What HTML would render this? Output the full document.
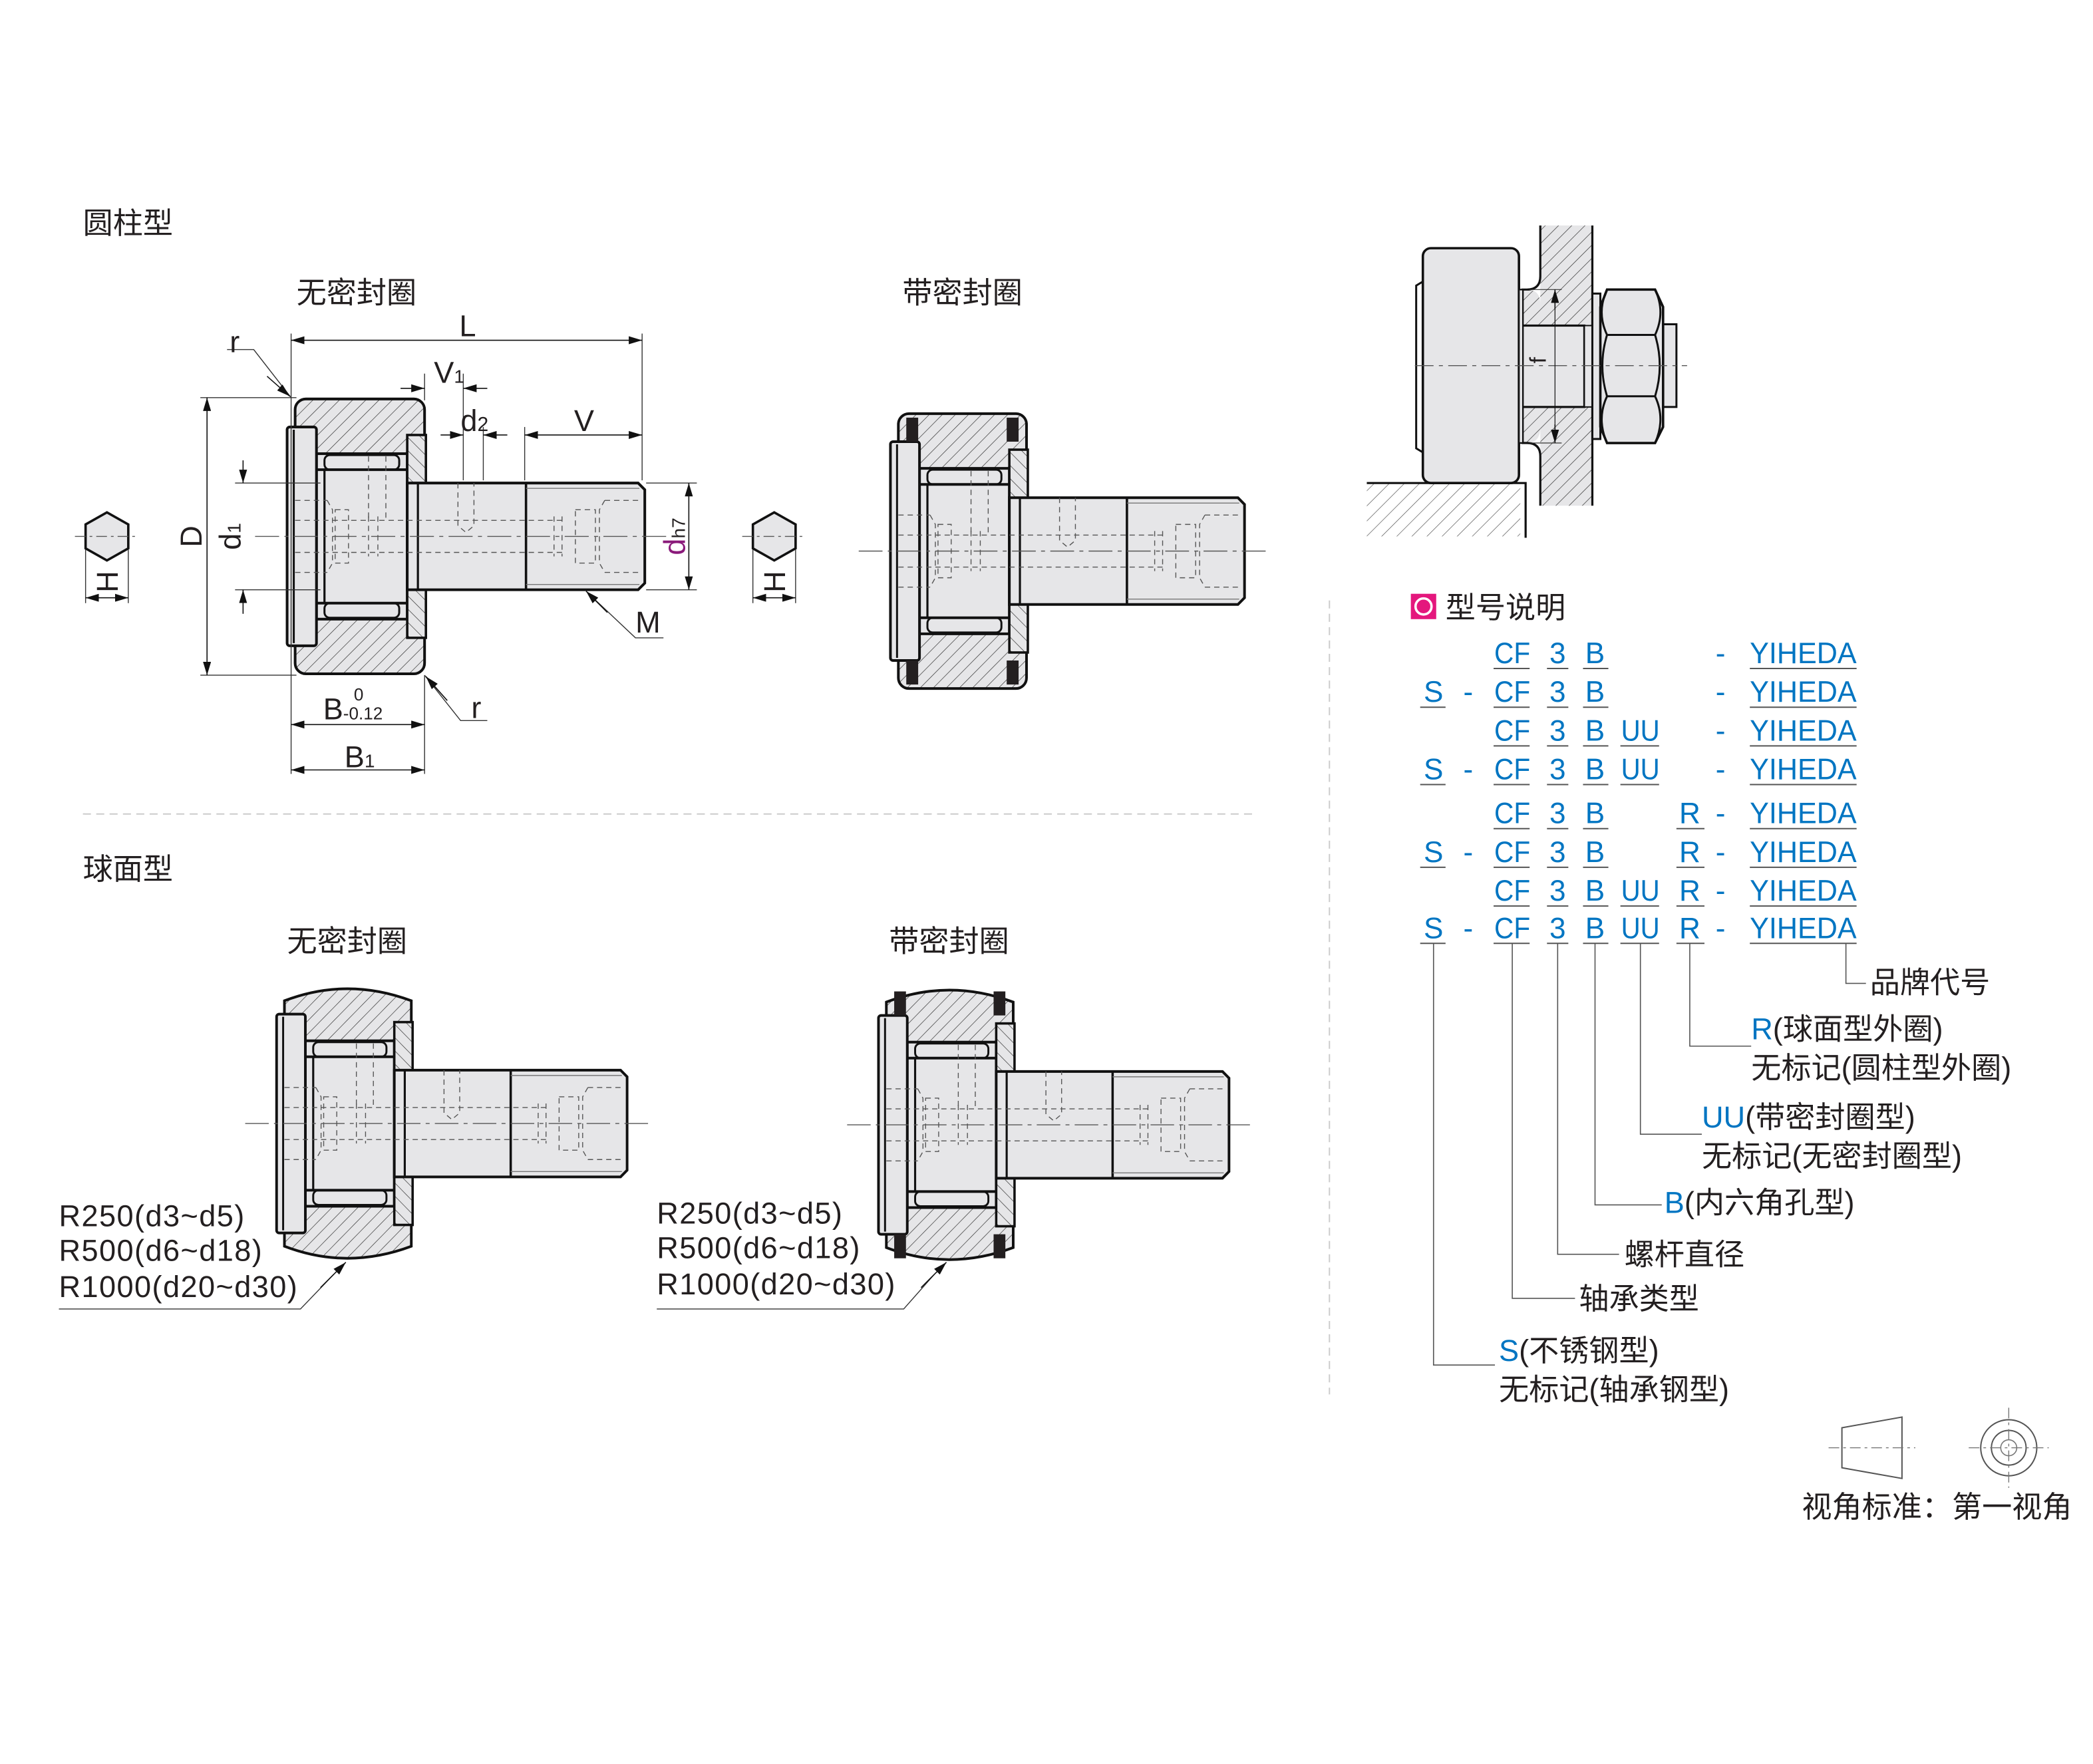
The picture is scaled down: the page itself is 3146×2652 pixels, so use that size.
<!DOCTYPE html>
<html><head><meta charset="utf-8"><style>
html,body{margin:0;padding:0;background:#fff;}
svg{display:block;}
text{font-family:"Liberation Sans","Noto Sans CJK SC",sans-serif;}
.k{fill:#231f20;font-size:22.5px;}
.l{letter-spacing:0.7px;}
.b{fill:#0075c2;font-size:22px;}
</style></head><body>
<svg width="3146" height="2652" viewBox="0 0 1568 1322" xmlns="http://www.w3.org/2000/svg">
<defs>
<pattern id="h" patternUnits="userSpaceOnUse" width="7" height="7" patternTransform="rotate(45)">
<rect width="7" height="7" fill="#e6e6e8"/><line x1="0" y1="0" x2="0" y2="7" stroke="#333" stroke-width="0.7"/></pattern>
<pattern id="h2" patternUnits="userSpaceOnUse" width="7" height="7" patternTransform="rotate(-45)">
<rect width="7" height="7" fill="#e6e6e8"/><line x1="0" y1="0" x2="0" y2="7" stroke="#333" stroke-width="0.7"/></pattern>
<pattern id="hw" patternUnits="userSpaceOnUse" width="8" height="8" patternTransform="rotate(45)">
<rect width="8" height="8" fill="#fff"/><line x1="0" y1="0" x2="0" y2="8" stroke="#555" stroke-width="0.7"/></pattern>
<marker id="a" viewBox="0 0 10 6" refX="10" refY="3" markerWidth="10" markerHeight="6" orient="auto-start-reverse" markerUnits="userSpaceOnUse"><path d="M0,0 L10,3 L0,6z" fill="#111"/></marker>

<g id="core">
 <path d="M84,-40 H257 L262,-35 V35 L257,40 H84 Z" fill="#e6e6e8" stroke="#111" stroke-width="2"/>
 <line x1="92" y1="-40" x2="92" y2="40" stroke="#111" stroke-width="1.6"/>
 <line x1="173" y1="-40" x2="173" y2="40" stroke="#111" stroke-width="1.8"/>
 <line x1="173" y1="-36" x2="258" y2="-36" stroke="#777" stroke-width="0.7"/>
 <line x1="173" y1="36" x2="258" y2="36" stroke="#777" stroke-width="0.7"/>
 <g stroke="#555" stroke-width="0.7" stroke-dasharray="4,3" fill="none">
  <line x1="0" y1="-12" x2="200" y2="-12"/><line x1="0" y1="12" x2="200" y2="12"/>
  <line x1="0" y1="-27" x2="24" y2="-27"/><line x1="0" y1="27" x2="24" y2="27"/>
  <path d="M24,-27 L28,-20 V20 L24,27"/><path d="M30,-20 H40 V20 H30z"/>
  <path d="M55,-15 V15 M62,-15 V15"/>
  <path d="M232,-27 H258 M232,27 H258 M232,-27 L228,-20 V20 L232,27 M210,-20 H225 V20 H210z M194,-15 V15 M200,-15 V15"/>
  <path d="M122,-40 V-8 L128,-3 L134,-8 V-40"/>
  <line x1="55" y1="-60" x2="55" y2="-12"/><line x1="68" y1="-60" x2="68" y2="-12"/>
 </g>
 <line x1="-30" y1="0" x2="280" y2="0" stroke="#555" stroke-width="0.7" stroke-dasharray="18,4,3,4"/>
</g>

<g id="cyl">
 <rect x="0" y="-103" width="97" height="206" rx="8" fill="url(#h)" stroke="#111" stroke-width="2"/>
 <rect x="16" y="-62" width="68" height="124" fill="#e6e6e8" stroke="#111" stroke-width="2"/>
 <rect x="84" y="-76" width="14" height="152" fill="url(#h2)" stroke="#111" stroke-width="1.8"/>
 <rect x="-6" y="-82" width="22" height="164" rx="2" fill="#e6e6e8" stroke="#111" stroke-width="2"/>
 <line x1="-1" y1="-80" x2="-1" y2="80" stroke="#111" stroke-width="1.5"/>
 <rect x="22" y="-61" width="56" height="11" rx="4" fill="#e6e6e8" stroke="#111" stroke-width="1.5"/>
 <rect x="22" y="50" width="56" height="11" rx="4" fill="#e6e6e8" stroke="#111" stroke-width="1.5"/>
 <line x1="16" y1="-50" x2="84" y2="-50" stroke="#111" stroke-width="2"/>
 <line x1="16" y1="50" x2="84" y2="50" stroke="#111" stroke-width="2"/>
 <line x1="22" y1="-50" x2="22" y2="50" stroke="#111" stroke-width="1.6"/>
 <use href="#core"/>
</g>

<g id="sph">
 <path d="M0,-92 Q48,-110 97,-92 V92 Q48,110 0,92 Z" fill="url(#h)" stroke="#111" stroke-width="2"/>
 <rect x="16" y="-62" width="68" height="124" fill="#e6e6e8" stroke="#111" stroke-width="2"/>
 <rect x="84" y="-76" width="14" height="152" fill="url(#h2)" stroke="#111" stroke-width="1.8"/>
 <rect x="-6" y="-82" width="22" height="164" rx="2" fill="#e6e6e8" stroke="#111" stroke-width="2"/>
 <line x1="-1" y1="-80" x2="-1" y2="80" stroke="#111" stroke-width="1.5"/>
 <rect x="22" y="-61" width="56" height="11" rx="4" fill="#e6e6e8" stroke="#111" stroke-width="1.5"/>
 <rect x="22" y="50" width="56" height="11" rx="4" fill="#e6e6e8" stroke="#111" stroke-width="1.5"/>
 <line x1="16" y1="-50" x2="84" y2="-50" stroke="#111" stroke-width="2"/>
 <line x1="16" y1="50" x2="84" y2="50" stroke="#111" stroke-width="2"/>
 <line x1="22" y1="-50" x2="22" y2="50" stroke="#111" stroke-width="1.6"/>
 <use href="#core"/>
</g>

<g id="seal">
 <rect x="6" y="-100" width="9" height="18" fill="#231f20"/><rect x="82" y="-100" width="9" height="18" fill="#231f20"/>
 <rect x="6" y="82" width="9" height="18" fill="#231f20"/><rect x="82" y="82" width="9" height="18" fill="#231f20"/>
</g>

<g id="hex">
 <polygon points="0,-18 16,-9 16,9 0,18 -16,9 -16,-9" fill="#e6e6e8" stroke="#111" stroke-width="1.8"/>
 <line x1="-24" y1="0" x2="24" y2="0" stroke="#555" stroke-width="0.7" stroke-dasharray="8,3,2,3"/>
 <line x1="-16" y1="10" x2="-16" y2="50" stroke="#333" stroke-width="0.7"/>
 <line x1="16" y1="10" x2="16" y2="50" stroke="#333" stroke-width="0.7"/>
 <line x1="-16" y1="46" x2="16" y2="46" stroke="#111" stroke-width="0.8" marker-start="url(#a)" marker-end="url(#a)"/>
 <text transform="translate(8,34) rotate(-90)" class="k" text-anchor="middle">H</text>
</g>
</defs>

<text x="62" y="175" class="k">圆柱型</text>
<text x="222" y="227" class="k">无密封圈</text>
<text x="676" y="227" class="k">带密封圈</text>
<text x="62" y="659" class="k">球面型</text>
<text x="215" y="713" class="k">无密封圈</text>
<text x="666" y="713" class="k">带密封圈</text>

<use href="#cyl" transform="translate(221,402)"/>
<use href="#hex" transform="translate(80,402)"/>
<use href="#hex" transform="translate(580,402)"/>
<g stroke="#333" stroke-width="0.7" fill="none">
 <line x1="218" y1="250" x2="218" y2="580"/><line x1="481" y1="250" x2="481" y2="360"/>
 <line x1="318" y1="280" x2="318" y2="300"/><line x1="347" y1="280" x2="347" y2="360"/><line x1="362" y1="320" x2="362" y2="360"/>
 <line x1="393" y1="320" x2="393" y2="360"/>
 <line x1="150" y1="298" x2="222" y2="298"/><line x1="150" y1="506" x2="222" y2="506"/>
 <line x1="176" y1="362" x2="240" y2="362"/><line x1="176" y1="442" x2="240" y2="442"/>
 <line x1="484" y1="362" x2="522" y2="362"/><line x1="484" y1="442" x2="522" y2="442"/>
 <line x1="318" y1="506" x2="318" y2="580"/>
 <polyline points="170,262 190,262 218,298"/>
 <polyline points="318,506 345,540 365,540"/>
 <polyline points="440,444 476,478 497,478"/>
</g>
<g stroke="#111" stroke-width="0.8">
 <line x1="218" y1="255" x2="481" y2="255" marker-start="url(#a)" marker-end="url(#a)"/>
 <line x1="300" y1="291" x2="318" y2="291" marker-end="url(#a)"/><line x1="365" y1="291" x2="347" y2="291" marker-end="url(#a)"/>
 <line x1="330" y1="326" x2="347" y2="326" marker-end="url(#a)"/><line x1="380" y1="326" x2="362" y2="326" marker-end="url(#a)"/>
 <line x1="393" y1="326" x2="481" y2="326" marker-start="url(#a)" marker-end="url(#a)"/>
 <line x1="155" y1="298" x2="155" y2="506" marker-start="url(#a)" marker-end="url(#a)"/>
 <line x1="182" y1="345" x2="182" y2="362" marker-end="url(#a)"/><line x1="182" y1="460" x2="182" y2="442" marker-end="url(#a)"/>
 <line x1="516" y1="362" x2="516" y2="442" marker-start="url(#a)" marker-end="url(#a)"/>
 <line x1="218" y1="543" x2="318" y2="543" marker-start="url(#a)" marker-end="url(#a)"/>
 <line x1="218" y1="577" x2="318" y2="577" marker-start="url(#a)" marker-end="url(#a)"/>
 <line x1="200" y1="282" x2="217" y2="297" marker-end="url(#a)"/>
 <line x1="335" y1="525" x2="319" y2="507" marker-end="url(#a)"/>
 <line x1="455" y1="459" x2="439" y2="443" marker-end="url(#a)"/>
</g>
<text x="172" y="264" class="k">r</text>
<text x="344" y="252" class="k">L</text>
<text x="325" y="287" class="k">V<tspan style="font-size:14px">1</tspan></text>
<text x="345" y="323" class="k">d<tspan style="font-size:15px">2</tspan></text>
<text x="430" y="323" class="k">V</text>
<text transform="translate(151,402) rotate(-90)" class="k" text-anchor="middle">D</text>
<text transform="translate(180,402) rotate(-90)" class="k" text-anchor="middle">d<tspan style="font-size:14px">1</tspan></text>
<text transform="translate(513,402) rotate(-90)" class="k" text-anchor="middle" style="fill:#8a1a7a">d<tspan style="font-size:14px;fill:#231f20">h7</tspan></text>
<text x="476" y="474" class="k">M</text>
<text x="353" y="538" class="k">r</text>
<text x="242" y="539" class="k">B</text><text x="265" y="525" class="k" style="font-size:13px">0</text><text x="257" y="539" class="k" style="font-size:13px">-0.12</text>
<text x="258" y="575" class="k">B<tspan style="font-size:14px">1</tspan></text>

<g transform="translate(673,413) scale(0.99,1)"><use href="#cyl"/><use href="#seal"/></g>

<line x1="62" y1="610" x2="940" y2="610" stroke="#ccc" stroke-width="1" stroke-dasharray="6,4"/>
<line x1="996" y1="450" x2="996" y2="1045" stroke="#ccc" stroke-width="1" stroke-dasharray="6,4"/>

<use href="#sph" transform="translate(213,842) scale(0.98,1)"/>
<g transform="translate(664,843) scale(0.98,1)"><use href="#sph"/><use href="#seal"/></g>
<g stroke="#333" stroke-width="0.7" fill="none">
 <polyline points="44,981 225,981 250,955"/>
 <polyline points="492,981 677,981 700,955"/>
</g>
<g stroke="#111" stroke-width="0.8">
 <line x1="240" y1="965" x2="259" y2="946" marker-end="url(#a)"/>
 <line x1="690" y1="965" x2="709" y2="946" marker-end="url(#a)"/>
</g>
<text x="44" y="919" class="k l">R250(d3~d5)</text>
<text x="44" y="945" class="k l">R500(d6~d18)</text>
<text x="44" y="972" class="k l">R1000(d20~d30)</text>
<text x="492" y="917" class="k l">R250(d3~d5)</text>
<text x="492" y="943" class="k l">R500(d6~d18)</text>
<text x="492" y="970" class="k l">R1000(d20~d30)</text>

<rect x="1024" y="362" width="115" height="40" fill="url(#hw)"/>
<polyline points="1024,362 1143,362 1143,403" fill="none" stroke="#111" stroke-width="1.6"/>
<path d="M1154,169 H1193 V379 H1154 V228 Q1154,217 1144,217 H1140 V332 H1144 Q1154,332 1154,320 Z" fill="url(#h)" stroke="none"/>
<path d="M1154,169 V207 Q1154,217 1144,217 H1140 M1140,332 H1144 Q1154,332 1154,342 V379" fill="none" stroke="#111" stroke-width="1.6"/>
<line x1="1193" y1="169" x2="1193" y2="379" stroke="#111" stroke-width="1.6"/>
<rect x="1140" y="244" width="47" height="61" fill="#e6e6e8" stroke="#111" stroke-width="1.6"/>
<rect x="1187" y="244" width="6" height="61" fill="#e6e6e8" stroke="#111" stroke-width="1"/>
<rect x="1066" y="186" width="72" height="176" rx="6" fill="#e6e6e8" stroke="#111" stroke-width="1.8"/>
<path d="M1066,211 L1061,214 V336 L1066,339" fill="none" stroke="#111" stroke-width="1.5"/>
<rect x="1138" y="217" width="3" height="115" fill="#e6e6e8" stroke="#111" stroke-width="1.2"/>
<rect x="1193" y="220" width="6" height="109" fill="#e6e6e8" stroke="#111" stroke-width="1.5"/>
<rect x="1246" y="243" width="10" height="62" fill="#e6e6e8" stroke="#111" stroke-width="1.5"/>
<path d="M1204,217 H1240 L1246,230 V320 L1240,332 H1204 L1199,320 V230 Z" fill="#e6e6e8" stroke="#111" stroke-width="1.8"/>
<path d="M1204,251 H1240 M1204,297 H1240 M1204,251 Q1197,274 1204,297 M1240,251 Q1247,274 1240,297 M1204,217 Q1196,234 1204,251 M1240,217 Q1248,234 1240,251 M1204,297 Q1196,314 1204,332 M1240,297 Q1248,314 1240,332" fill="none" stroke="#111" stroke-width="1.5"/>
<line x1="1060" y1="274" x2="1264" y2="274" stroke="#555" stroke-width="0.7" stroke-dasharray="14,4,3,4"/>
<line x1="1146" y1="217" x2="1170" y2="217" stroke="#333" stroke-width="0.6"/>
<line x1="1146" y1="332" x2="1170" y2="332" stroke="#333" stroke-width="0.6"/>
<line x1="1165" y1="232" x2="1165" y2="217" stroke="#111" stroke-width="0.8" marker-end="url(#a)"/>
<line x1="1165" y1="232" x2="1165" y2="318" stroke="#111" stroke-width="0.6"/>
<line x1="1165" y1="318" x2="1165" y2="332" stroke="#111" stroke-width="0.8" marker-end="url(#a)"/>
<text transform="translate(1158,270) rotate(-90)" class="k" style="font-size:17px" text-anchor="middle">f</text>

<rect x="1057" y="445" width="19" height="19" fill="#e4177d"/>
<circle cx="1066.5" cy="454.5" r="6" fill="none" stroke="#fff" stroke-width="1.8"/>
<text x="1083" y="463" class="k">型号说明</text>

<g class="b" text-anchor="middle">
 <g transform="translate(0,497)"><text x="1133" y="0" textLength="27" lengthAdjust="spacingAndGlyphs">CF</text><text x="1167" y="0">3</text><text x="1195" y="0">B</text><text x="1289" y="0">-</text><text x="1351" y="0" textLength="80" lengthAdjust="spacingAndGlyphs">YIHEDA</text></g>
 <g transform="translate(0,526)"><text x="1074" y="0">S</text><text x="1100" y="0">-</text><text x="1133" y="0" textLength="27" lengthAdjust="spacingAndGlyphs">CF</text><text x="1167" y="0">3</text><text x="1195" y="0">B</text><text x="1289" y="0">-</text><text x="1351" y="0" textLength="80" lengthAdjust="spacingAndGlyphs">YIHEDA</text></g>
 <g transform="translate(0,555)"><text x="1133" y="0" textLength="27" lengthAdjust="spacingAndGlyphs">CF</text><text x="1167" y="0">3</text><text x="1195" y="0">B</text><text x="1229" y="0" textLength="29" lengthAdjust="spacingAndGlyphs">UU</text><text x="1289" y="0">-</text><text x="1351" y="0" textLength="80" lengthAdjust="spacingAndGlyphs">YIHEDA</text></g>
 <g transform="translate(0,584)"><text x="1074" y="0">S</text><text x="1100" y="0">-</text><text x="1133" y="0" textLength="27" lengthAdjust="spacingAndGlyphs">CF</text><text x="1167" y="0">3</text><text x="1195" y="0">B</text><text x="1229" y="0" textLength="29" lengthAdjust="spacingAndGlyphs">UU</text><text x="1289" y="0">-</text><text x="1351" y="0" textLength="80" lengthAdjust="spacingAndGlyphs">YIHEDA</text></g>
 <g transform="translate(0,617)"><text x="1133" y="0" textLength="27" lengthAdjust="spacingAndGlyphs">CF</text><text x="1167" y="0">3</text><text x="1195" y="0">B</text><text x="1266" y="0">R</text><text x="1289" y="0">-</text><text x="1351" y="0" textLength="80" lengthAdjust="spacingAndGlyphs">YIHEDA</text></g>
 <g transform="translate(0,646)"><text x="1074" y="0">S</text><text x="1100" y="0">-</text><text x="1133" y="0" textLength="27" lengthAdjust="spacingAndGlyphs">CF</text><text x="1167" y="0">3</text><text x="1195" y="0">B</text><text x="1266" y="0">R</text><text x="1289" y="0">-</text><text x="1351" y="0" textLength="80" lengthAdjust="spacingAndGlyphs">YIHEDA</text></g>
 <g transform="translate(0,675)"><text x="1133" y="0" textLength="27" lengthAdjust="spacingAndGlyphs">CF</text><text x="1167" y="0">3</text><text x="1195" y="0">B</text><text x="1229" y="0" textLength="29" lengthAdjust="spacingAndGlyphs">UU</text><text x="1266" y="0">R</text><text x="1289" y="0">-</text><text x="1351" y="0" textLength="80" lengthAdjust="spacingAndGlyphs">YIHEDA</text></g>
 <g transform="translate(0,703)"><text x="1074" y="0">S</text><text x="1100" y="0">-</text><text x="1133" y="0" textLength="27" lengthAdjust="spacingAndGlyphs">CF</text><text x="1167" y="0">3</text><text x="1195" y="0">B</text><text x="1229" y="0" textLength="29" lengthAdjust="spacingAndGlyphs">UU</text><text x="1266" y="0">R</text><text x="1289" y="0">-</text><text x="1351" y="0" textLength="80" lengthAdjust="spacingAndGlyphs">YIHEDA</text></g>
</g>
<g stroke="#555" stroke-width="1">
 <path d="M1119,501H1146 M1159,501H1175 M1186,501H1205 M1311,501H1391"/>
 <path d="M1064,530H1083 M1119,530H1146 M1159,530H1175 M1186,530H1205 M1311,530H1391"/>
 <path d="M1119,559H1146 M1159,559H1175 M1186,559H1205 M1214,559H1243 M1311,559H1391"/>
 <path d="M1064,588H1083 M1119,588H1146 M1159,588H1175 M1186,588H1205 M1214,588H1243 M1311,588H1391"/>
 <path d="M1119,621H1146 M1159,621H1175 M1186,621H1205 M1256,621H1277 M1311,621H1391"/>
 <path d="M1064,650H1083 M1119,650H1146 M1159,650H1175 M1186,650H1205 M1256,650H1277 M1311,650H1391"/>
 <path d="M1119,679H1146 M1159,679H1175 M1186,679H1205 M1214,679H1243 M1256,679H1277 M1311,679H1391"/>
 <path d="M1064,707H1083 M1119,707H1146 M1159,707H1175 M1186,707H1205 M1214,707H1243 M1256,707H1277 M1311,707H1391"/>
</g>
<g stroke="#555" stroke-width="0.8" fill="none">
 <polyline points="1383,707 1383,737 1398,737"/>
 <polyline points="1266,707 1266,784 1312,784"/>
 <polyline points="1229,707 1229,850 1275,850"/>
 <polyline points="1195,707 1195,903 1245,903"/>
 <polyline points="1167,707 1167,940 1213,940"/>
 <polyline points="1133,707 1133,973 1180,973"/>
 <polyline points="1074,707 1074,1023 1120,1023"/>
</g>
<text x="1401" y="744" class="k">品牌代号</text>
<text x="1312" y="779" class="k"><tspan style="fill:#0075c2">R</tspan>(球面型外圈)</text>
<text x="1312" y="808" class="k">无标记(圆柱型外圈)</text>
<text x="1275" y="845" class="k"><tspan style="fill:#0075c2">UU</tspan>(带密封圈型)</text>
<text x="1275" y="874" class="k">无标记(无密封圈型)</text>
<text x="1247" y="909" class="k"><tspan style="fill:#0075c2">B</tspan>(内六角孔型)</text>
<text x="1217" y="948" class="k">螺杆直径</text>
<text x="1183" y="981" class="k">轴承类型</text>
<text x="1123" y="1020" class="k"><tspan style="fill:#0075c2">S</tspan>(不锈钢型)</text>
<text x="1123" y="1049" class="k">无标记(轴承钢型)</text>

<path d="M1380,1070 L1425,1062 V1108 L1380,1100 Z" fill="none" stroke="#555" stroke-width="1"/>
<line x1="1370" y1="1085" x2="1435" y2="1085" stroke="#777" stroke-width="0.7" stroke-dasharray="8,3,2,3"/>
<circle cx="1505" cy="1085" r="21" fill="none" stroke="#555" stroke-width="1"/>
<circle cx="1505" cy="1085" r="13" fill="none" stroke="#555" stroke-width="1"/>
<circle cx="1505" cy="1085" r="6" fill="none" stroke="#777" stroke-width="0.8"/>
<line x1="1475" y1="1085" x2="1535" y2="1085" stroke="#777" stroke-width="0.7" stroke-dasharray="8,3,2,3"/>
<line x1="1505" y1="1055" x2="1505" y2="1115" stroke="#777" stroke-width="0.7" stroke-dasharray="8,3,2,3"/>
<text x="1350" y="1137" class="k">视角标准：第一视角</text>
</svg>
</body></html>
